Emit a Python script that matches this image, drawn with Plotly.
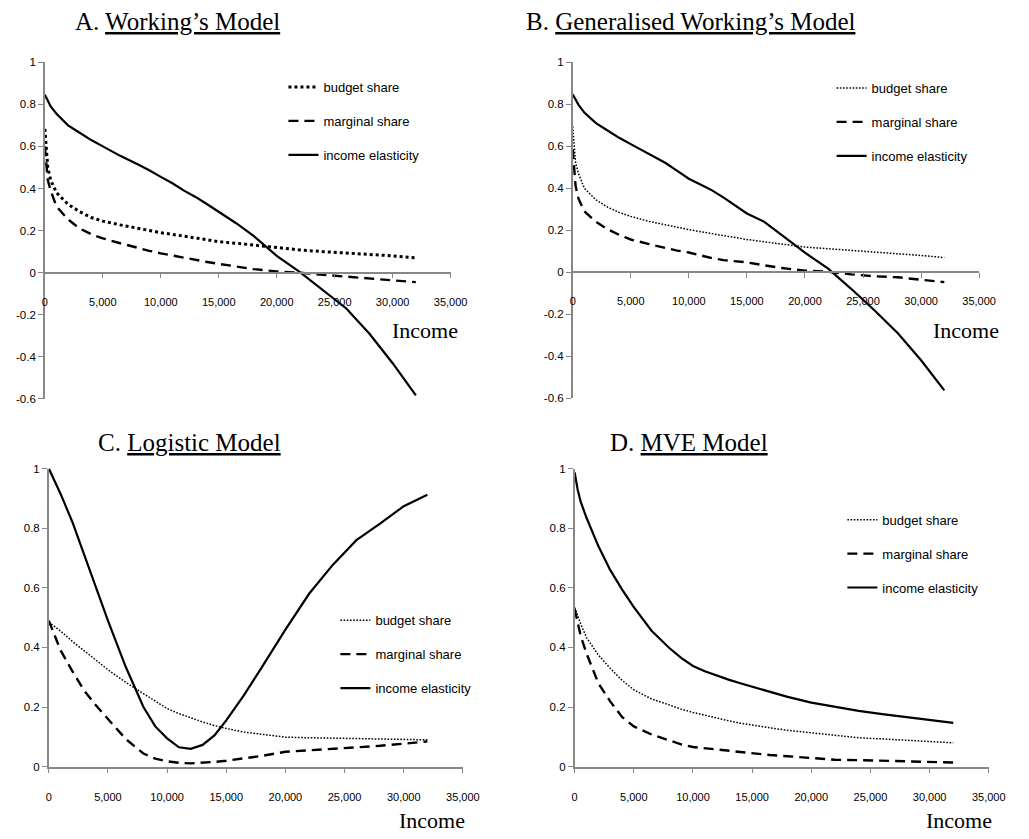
import plotly.graph_objects as go

# ---------------- data ----------------
income = [0, 250, 500, 1000, 2000, 3000, 4000, 5000, 6500, 8000, 9000, 10000, 11000,
          12000, 13000, 14000, 15000, 16500, 18000, 20000, 22000, 24000, 26000, 28000,
          30000, 32000]

# A. Working's Model
a_budget = [0.683, 0.50, 0.44, 0.38, 0.325, 0.29, 0.262, 0.245, 0.227, 0.21, 0.20, 0.19,
            0.182, 0.175, 0.165, 0.156, 0.147, 0.14, 0.131, 0.12, 0.108, 0.10, 0.094,
            0.088, 0.08, 0.07]
a_marginal = [0.60, 0.44, 0.39, 0.315, 0.253, 0.21, 0.183, 0.163, 0.14, 0.117, 0.104, 0.092,
              0.081, 0.07, 0.06, 0.051, 0.042, 0.03, 0.017, 0.006, 0.0, -0.01, -0.018,
              -0.026, -0.034, -0.045]
a_elastic = [0.845, 0.815, 0.79, 0.755, 0.70, 0.665, 0.63, 0.60, 0.555, 0.515, 0.487, 0.455,
             0.425, 0.39, 0.36, 0.325, 0.29, 0.235, 0.175, 0.08, 0.003, -0.085, -0.17,
             -0.29, -0.43, -0.583]

# B. Generalised Working's Model
b_budget = [0.695, 0.52, 0.47, 0.40, 0.345, 0.31, 0.285, 0.266, 0.243, 0.225, 0.213, 0.203,
            0.193, 0.183, 0.173, 0.165, 0.156, 0.145, 0.135, 0.12, 0.112, 0.104, 0.097,
            0.09, 0.08, 0.07]
b_marginal = [0.586, 0.41, 0.35, 0.29, 0.24, 0.205, 0.178, 0.156, 0.135, 0.114, 0.103, 0.094,
              0.08, 0.067, 0.058, 0.052, 0.047, 0.033, 0.02, 0.008, 0.002, -0.01, -0.019,
              -0.024, -0.035, -0.047]
b_elastic = [0.847, 0.82, 0.797, 0.76, 0.71, 0.675, 0.64, 0.61, 0.565, 0.52, 0.483, 0.445,
             0.418, 0.39, 0.355, 0.318, 0.28, 0.24, 0.176, 0.093, 0.017, -0.08, -0.182,
             -0.29, -0.419, -0.5625]

# C. Logistic Model
c_budget = [0.485, 0.478, 0.47, 0.455, 0.42, 0.39, 0.357, 0.325, 0.283, 0.245, 0.22, 0.195,
            0.178, 0.163, 0.15, 0.138, 0.128, 0.116, 0.108, 0.099, 0.097, 0.096, 0.095,
            0.094, 0.092, 0.09]
c_marginal = [0.49, 0.465, 0.44, 0.39, 0.32, 0.255, 0.205, 0.16, 0.093, 0.044, 0.027, 0.018,
              0.013, 0.011, 0.013, 0.016, 0.02, 0.028, 0.036, 0.05, 0.055, 0.059, 0.065,
              0.07, 0.077, 0.085]
c_elastic = [1.0, 0.98, 0.96, 0.915, 0.82, 0.71, 0.60, 0.49, 0.335, 0.20, 0.135, 0.095,
             0.065, 0.06, 0.073, 0.105, 0.155, 0.24, 0.333, 0.46, 0.58, 0.677, 0.76, 0.815,
             0.874, 0.912]

# D. MVE Model
d_budget = [0.534, 0.505, 0.48, 0.433, 0.375, 0.33, 0.29, 0.258, 0.227, 0.207, 0.193, 0.182,
            0.172, 0.163, 0.154, 0.146, 0.139, 0.13, 0.122, 0.113, 0.104, 0.097, 0.093,
            0.089, 0.085, 0.08]
d_marginal = [0.529, 0.48, 0.44, 0.38, 0.28, 0.219, 0.167, 0.135, 0.108, 0.088, 0.075, 0.066,
              0.062, 0.057, 0.052, 0.048, 0.044, 0.039, 0.035, 0.028, 0.023, 0.022, 0.02,
              0.017, 0.015, 0.014]
d_elastic = [0.987, 0.93, 0.89, 0.835, 0.74, 0.66, 0.595, 0.535, 0.456, 0.398, 0.365, 0.338,
             0.32, 0.305, 0.292, 0.28, 0.268, 0.25, 0.234, 0.215, 0.20, 0.187, 0.176, 0.166,
             0.157, 0.147]

series_names = ["budget share", "marginal share", "income elasticity"]
panel_titles = [("A. ", "Working’s Model"), ("B. ", "Generalised Working’s Model"),
                ("C. ", "Logistic Model"), ("D. ", "MVE Model")]
x_label = "Income"
x_tickvals = [0, 5000, 10000, 15000, 20000, 25000, 30000, 35000]
x_ticktext = ["0", "5,000", "10,000", "15,000", "20,000", "25,000", "30,000", "35,000"]
y_tickvals_top = [-0.6, -0.4, -0.2, 0, 0.2, 0.4, 0.6, 0.8, 1]
y_ticktext_top = ["-0.6", "-0.4", "-0.2", "0", "0.2", "0.4", "0.6", "0.8", "1"]
y_tickvals_bot = [0, 0.2, 0.4, 0.6, 0.8, 1]
y_ticktext_bot = ["0", "0.2", "0.4", "0.6", "0.8", "1"]

# ---------------- layout helpers ----------------
W, H = 1029, 839
def px_x(p):
    return p / W
def px_y(p):
    return 1 - p / H

AX = "#878787"
SANS = "Liberation Sans, Arial, sans-serif"
SERIF = "Liberation Serif, Times New Roman, serif"

panels = [
    dict(data=(a_budget, a_marginal, a_elastic), xd=(42.7, 456.5), yd=(57.0, 398.7),
         yr=(-0.6, 1.0), thick_dot=True, title_c=(178, 16), inc=(430, 329),
         leg=(286, 67)),
    dict(data=(b_budget, b_marginal, b_elastic), xd=(581.0, 995.5), yd=(57.0, 398.0),
         yr=(-0.6, 1.0), thick_dot=False, title_c=(701, 16), inc=(982, 329),
         leg=(845, 68)),
    dict(data=(c_budget, c_marginal, c_elastic), xd=(46.7, 469.0), yd=(469.3, 771.7),
         yr=(0.0, 1.0), thick_dot=False, title_c=(190, 443), inc=(437, 826),
         leg=(339, 608)),
    dict(data=(d_budget, d_marginal, d_elastic), xd=(583.0, 1005.3), yd=(469.3, 771.7),
         yr=(0.0, 1.0), thick_dot=False, title_c=(700, 443), inc=(975, 826),
         leg=(856, 506)),
]

fig = go.Figure()
layout = dict(width=W, height=H, margin=dict(l=0, r=0, t=0, b=0), autosize=False,
              paper_bgcolor="white", plot_bgcolor="white", showlegend=True,
              annotations=[])

for i, p in enumerate(panels):
    n = i + 1
    xa = "x" if n == 1 else f"x{n}"
    ya = "y" if n == 1 else f"y{n}"
    leg = "legend" if n == 1 else f"legend{n}"
    bs, ms, ie = p["data"]
    if p["thick_dot"]:
        dot_line = dict(color="black", width=3, dash="3px,3px")
    else:
        dot_line = dict(color="black", width=1.5, dash="1.6px,1.6px")
    styles = [dot_line,
              dict(color="black", width=2.4, dash="10px,6px"),
              dict(color="black", width=2.2)]
    for name, vals, st in zip(series_names, (bs, ms, ie), styles):
        fig.add_trace(go.Scatter(x=income, y=vals, mode="lines", name=name, line=st,
                                 xaxis=xa, yaxis=ya, legend=leg,
                                 legendgroup=f"{n}-{name}", hoverinfo="skip"))
    y0p, y1p = px_y(p["yd"][1]), px_y(p["yd"][0])
    ymin, ymax = p["yr"]
    xkey = "xaxis" if n == 1 else f"xaxis{n}"
    ykey = "yaxis" if n == 1 else f"yaxis{n}"
    xaxis = dict(domain=[px_x(p["xd"][0]), px_x(p["xd"][1])], range=[0, 35000],
                 showgrid=False, zeroline=False, showline=True, linecolor=AX,
                 linewidth=1.5, ticks="outside", ticklen=5, tickcolor=AX, tickwidth=1.2,
                 tickvals=x_tickvals, ticktext=x_ticktext,
                 tickfont=dict(family=SANS, size=11, color="black"),
                 ticklabelstandoff=14, fixedrange=True)
    if ymin < 0:
        zero_pos = y0p + (0 - ymin) / (ymax - ymin) * (y1p - y0p)
        xaxis.update(anchor="free", position=zero_pos)
        ytv, ytt = y_tickvals_top, y_ticktext_top
    else:
        xaxis.update(anchor=ya)
        ytv, ytt = y_tickvals_bot, y_ticktext_bot
    yaxis = dict(domain=[y0p, y1p], range=[ymin, ymax], anchor=xa, showgrid=False,
                 zeroline=False, showline=True, linecolor=AX, linewidth=1.5,
                 ticks="outside", ticklen=5, tickcolor=AX, tickwidth=1.2,
                 tickvals=ytv, ticktext=ytt,
                 tickfont=dict(family=SANS, size=11.5, color="black"), fixedrange=True)
    layout[xkey] = xaxis
    layout[ykey] = yaxis
    layout[leg] = dict(x=px_x(p["leg"][0]), y=px_y(p["leg"][1]), xanchor="left",
                       yanchor="top", bgcolor="rgba(0,0,0,0)", borderwidth=0,
                       font=dict(family=SANS, size=13, color="black"),
                       tracegroupgap=14, itemclick=False, itemdoubleclick=False)
    pre, main = panel_titles[i]
    layout["annotations"].append(dict(
        text=f"{pre}<u>{main}</u>", xref="paper", yref="paper",
        x=px_x(p["title_c"][0]), y=px_y(p["title_c"][1]), xanchor="center",
        yanchor="middle", showarrow=False,
        font=dict(family=SERIF, size=25, color="black")))
    layout["annotations"].append(dict(
        text=x_label, xref="paper", yref="paper",
        x=px_x(p["inc"][0]), y=px_y(p["inc"][1]), xanchor="center",
        yanchor="middle", showarrow=False,
        font=dict(family=SERIF, size=22, color="black")))

fig.update_layout(**layout)
fig.write_html("out.html", config={"displayModeBar": False})
